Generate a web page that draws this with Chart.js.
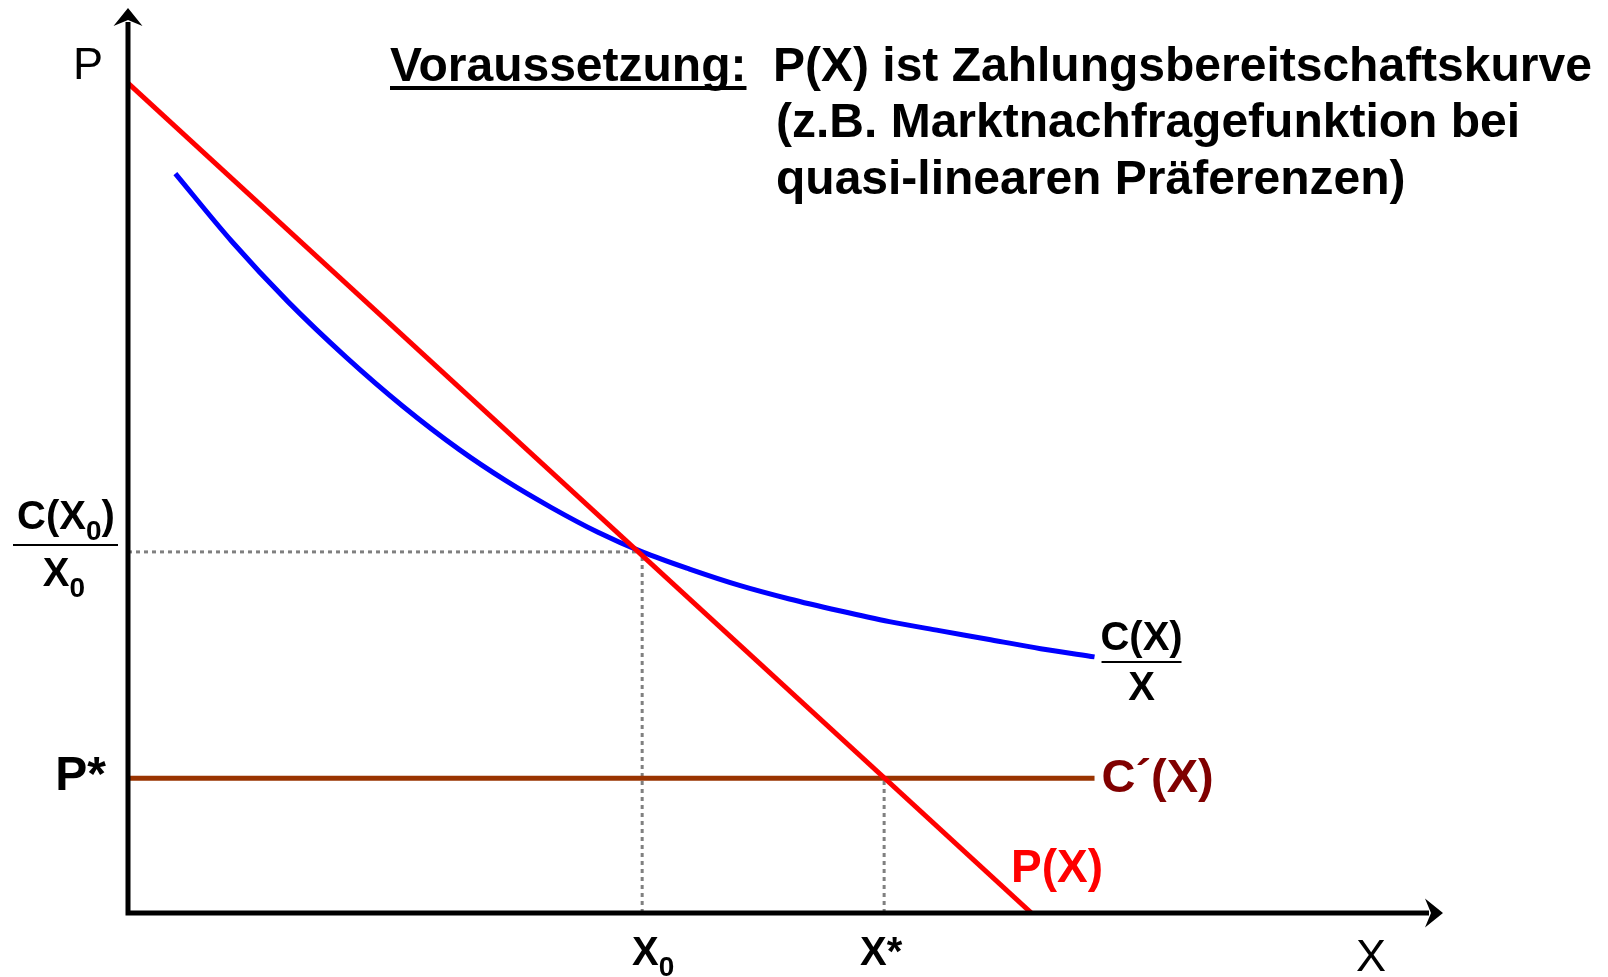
<!DOCTYPE html>
<html lang="de">
  <head>
    <meta charset="UTF-8" />
    <title>Durchschnittskosten und Zahlungsbereitschaft</title>
    <script src="https://cdn.jsdelivr.net/npm/chart.js"></script>
    <style>
      html, body { margin: 0; padding: 0; background: #fff; }
      #box { width: 1608px; height: 977px; }
    </style>
  </head>
  <body>
    <div id="box">
      <canvas id="grafico" width="1608" height="977"></canvas>
    </div>

<script>
  // Nachfrage P(X): Gerade von der P-Achse bis zur X-Achse
  const nachfrageX = [0, 68.7];
  const nachfrageY = [91.7, 0];

  // Durchschnittskosten C(X)/X
  const dkX = [3.6, 7.9, 12.2, 16.6, 20.9, 25.2, 28.7, 32.2, 35.7, 39.1, 42.7, 46.5, 50.3, 54.1, 57.9, 61.7, 65.6, 69.4, 73.5];
  const dkY = [81.7, 74.2, 67.5, 61.4, 56.0, 51.2, 47.8, 44.8, 42.1, 39.9, 38.0, 36.2, 34.7, 33.4, 32.2, 31.2, 30.2, 29.2, 28.3];

  // Grenzkosten C'(X) = P*
  const gkX = [0, 73.5];
  const gkY = [14.9, 14.9];

  // markierte Punkte
  const X0 = 39.1;
  const DK0 = 39.9;
  const XStern = 57.5;
  const PStern = 14.9;

  const titelZeilen = [
    "P(X) ist Zahlungsbereitschaftskurve",
    "(z.B. Marktnachfragefunktion bei",
    "quasi-linearen Präferenzen)"
  ];

  function punkte(xs, ys) {
    return xs.map(function (x, i) { return { x: x, y: ys[i] }; });
  }

  function gepunktet(daten) {
    return {
      data: daten,
      borderColor: "#808080",
      borderWidth: 3,
      borderDash: [4, 4],
      pointRadius: 0,
      fill: false,
      order: 10,
    };
  }

  const FONT = '"Liberation Sans", Arial, sans-serif';

  // Text mit tiefgestelltem Teil, zentriert um cx
  function textMitIndex(ctx, teile, cx, y, groesse) {
    const klein = Math.round(groesse * 0.7);
    let breite = 0;
    teile.forEach(function (t) {
      ctx.font = "bold " + (t[1] ? klein : groesse) + "px " + FONT;
      breite += ctx.measureText(t[0]).width;
    });
    let x = cx - breite / 2;
    ctx.textAlign = "left";
    teile.forEach(function (t) {
      ctx.font = "bold " + (t[1] ? klein : groesse) + "px " + FONT;
      ctx.fillText(t[0], x, t[1] ? y + groesse * 0.27 : y);
      x += ctx.measureText(t[0]).width;
    });
  }

  function bruchstrich(ctx, x1, x2, y) {
    ctx.strokeStyle = "#000";
    ctx.lineWidth = 2;
    ctx.beginPath();
    ctx.moveTo(x1, y);
    ctx.lineTo(x2, y);
    ctx.stroke();
  }

  const achsenPlugin = {
    id: "achsen",
    afterDatasetsDraw(chart) {
      const ctx = chart.ctx;
      const a = chart.chartArea;
      const x0 = chart.scales.x.getPixelForValue(0);
      const y0 = chart.scales.y.getPixelForValue(0);
      ctx.save();
      ctx.strokeStyle = "#000";
      ctx.fillStyle = "#000";
      ctx.lineWidth = 5;
      ctx.beginPath();
      ctx.moveTo(x0, y0 + 2.5);
      ctx.lineTo(x0, a.top + 14);
      ctx.moveTo(x0 - 2.5, y0);
      ctx.lineTo(a.right - 14, y0);
      ctx.stroke();
      // Pfeilspitzen
      ctx.beginPath();
      ctx.moveTo(x0, a.top);
      ctx.lineTo(x0 + 14.5, a.top + 18);
      ctx.lineTo(x0, a.top + 12);
      ctx.lineTo(x0 - 14.5, a.top + 18);
      ctx.closePath();
      ctx.fill();
      ctx.beginPath();
      ctx.moveTo(a.right, y0);
      ctx.lineTo(a.right - 18, y0 - 14.5);
      ctx.lineTo(a.right - 12, y0);
      ctx.lineTo(a.right - 18, y0 + 14.5);
      ctx.closePath();
      ctx.fill();
      ctx.restore();
    },
    afterDraw(chart) {
      const ctx = chart.ctx;
      const sx = chart.scales.x;
      const sy = chart.scales.y;
      ctx.save();
      ctx.fillStyle = "#000";
      ctx.textBaseline = "alphabetic";

      // Achsenbeschriftung
      ctx.font = "45px " + FONT;
      ctx.textAlign = "center";
      ctx.fillText("P", 88, 79);
      ctx.fillText("X", 1371, 971);

      // Überschrift
      ctx.font = "bold 48px " + FONT;
      ctx.textAlign = "left";
      ctx.fillText("Voraussetzung:", 390, 81);
      const w = ctx.measureText("Voraussetzung:").width;
      ctx.fillRect(390, 86, w, 4);
      ctx.fillText(titelZeilen[0], 773, 81);
      ctx.fillText(titelZeilen[1], 776, 137);
      ctx.fillText(titelZeilen[2], 776, 194);

      // C(X0)/X0 an der P-Achse
      const yDK = sy.getPixelForValue(DK0);
      textMitIndex(ctx, [["C(X", 0], ["0", 1], [")", 0]], 66, yDK - 23, 40);
      bruchstrich(ctx, 13, 118, yDK - 7);
      textMitIndex(ctx, [["X", 0], ["0", 1]], 64, yDK + 34, 40);

      // C(X)/X am Ende der Kurve
      const xEnde = sx.getPixelForValue(dkX[dkX.length - 1]);
      const yEnde = sy.getPixelForValue(dkY[dkY.length - 1]);
      textMitIndex(ctx, [["C(X)", 0]], xEnde + 47, yEnde - 7, 40);
      bruchstrich(ctx, xEnde + 7, xEnde + 87, yEnde + 5);
      textMitIndex(ctx, [["X", 0]], xEnde + 47, yEnde + 43, 40);

      // P*
      const yP = sy.getPixelForValue(PStern);
      ctx.font = "bold 48px " + FONT;
      ctx.textAlign = "right";
      ctx.fillText("P*", 106, yP + 12);

      // C'(X)
      ctx.fillStyle = "#800000";
      ctx.textAlign = "left";
      ctx.font = "bold 47px " + FONT;
      ctx.fillText("C\u00B4(X)", sx.getPixelForValue(gkX[1]) + 7, yP + 14);

      // P(X)
      ctx.fillStyle = "#ff0000";
      ctx.font = "bold 46px " + FONT;
      ctx.fillText("P(X)", 1011, 882);

      // X0 und X* an der X-Achse
      ctx.fillStyle = "#000";
      const yAchse = sy.getPixelForValue(0);
      textMitIndex(ctx, [["X", 0], ["0", 1]], sx.getPixelForValue(X0) + 11, yAchse + 52, 40);
      textMitIndex(ctx, [["X*", 0]], sx.getPixelForValue(XStern) - 3, yAchse + 52, 40);
      ctx.restore();
    },
  };

  const config = {
    type: "line",
    data: {
      datasets: [
        gepunktet([{ x: 0, y: DK0 }, { x: X0, y: DK0 }]),
        gepunktet([{ x: X0, y: 0 }, { x: X0, y: DK0 }]),
        gepunktet([{ x: XStern, y: 0 }, { x: XStern, y: PStern }]),
        {
          label: "C'(X)",
          data: punkte(gkX, gkY),
          borderColor: "#993300",
          borderWidth: 5,
          pointRadius: 0,
          order: 3,
        },
        {
          label: "C(X)/X",
          data: punkte(dkX, dkY),
          borderColor: "#0000ff",
          borderWidth: 5,
          pointRadius: 0,
          cubicInterpolationMode: "monotone",
          order: 2,
        },
        {
          label: "P(X)",
          data: punkte(nachfrageX, nachfrageY),
          borderColor: "#ff0000",
          borderWidth: 5,
          pointRadius: 0,
          order: 1,
        },
      ],
    },
    options: {
      responsive: false,
      animation: false,
      layout: { padding: { left: 128, right: 165, top: 8, bottom: 64 } },
      plugins: { legend: { display: false }, tooltip: { enabled: false } },
      scales: {
        x: { type: "linear", min: 0, max: 100, display: false },
        y: { type: "linear", min: 0, max: 100, display: false },
      },
    },
    plugins: [achsenPlugin],
  };

  let meuGrafico = new Chart(document.getElementById("grafico"), config);
</script>
  </body>
</html>
